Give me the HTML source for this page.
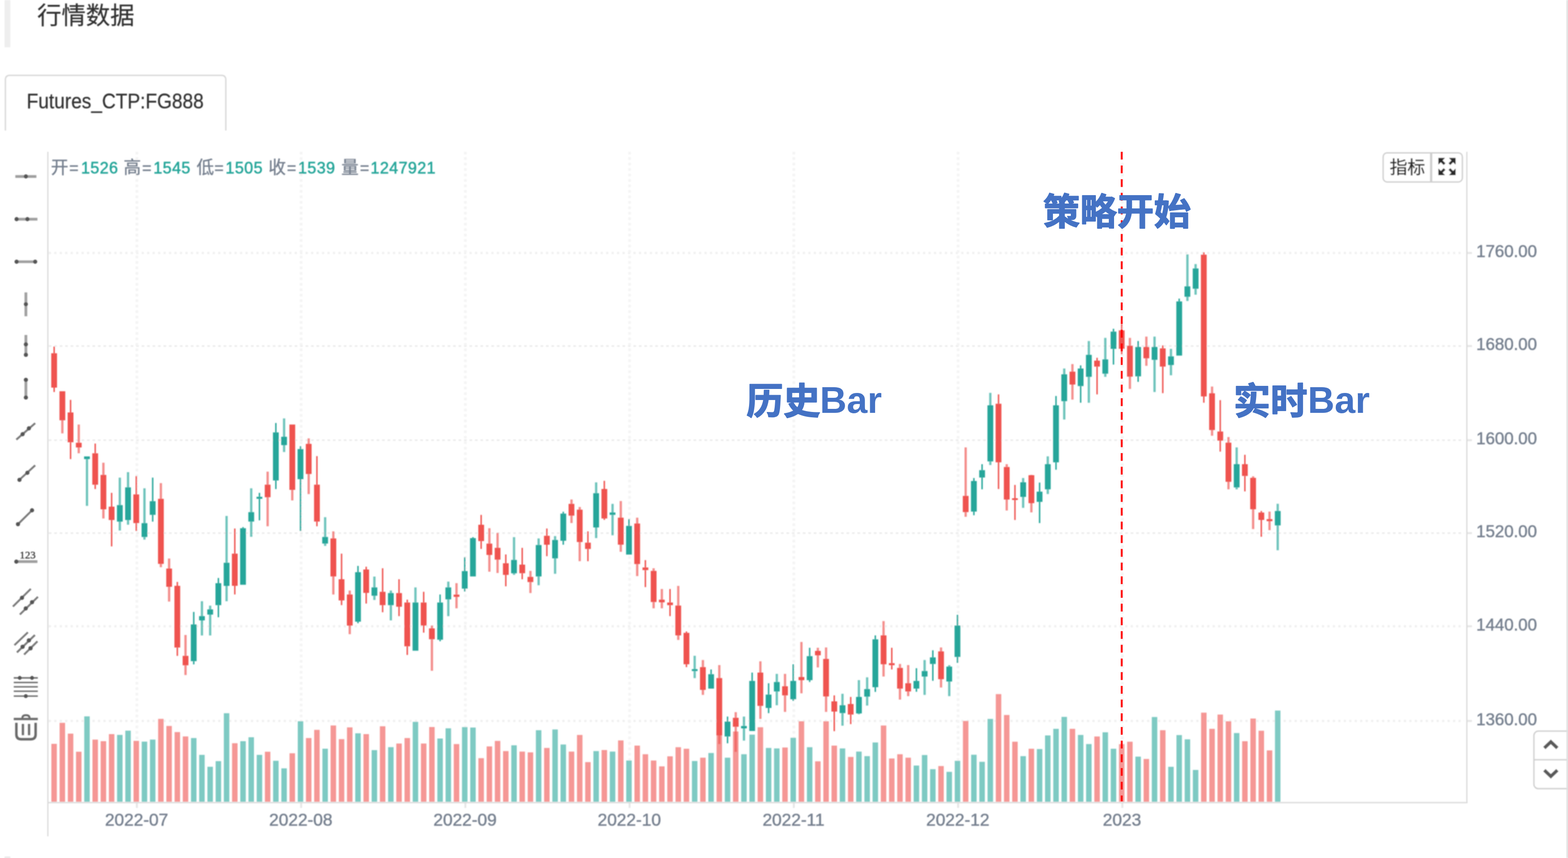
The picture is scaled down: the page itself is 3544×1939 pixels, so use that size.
<!DOCTYPE html>
<html lang="zh-CN"><head><meta charset="utf-8"><title>行情数据</title>
<style>
html,body{margin:0;padding:0;background:#fff;}
body{width:3544px;height:1939px;overflow:hidden;position:relative;}
svg{position:absolute;left:0;top:0;display:block;}
text{font-family:"Liberation Sans","Noto Sans CJK SC",sans-serif;}
.soft{filter:url(#soft);}
.grid{stroke:#ebebeb;stroke-width:3.4;stroke-dasharray:6 6.35;}
.gv{stroke:#f4f4f4;stroke-width:6.2;}
.gf{stroke:#f0f0f0;stroke-width:5;stroke-dasharray:5 7.35;}
.tick{stroke:#e6e6e6;stroke-width:4.4;}
.axis{stroke:#d9d9d9;stroke-width:2.7;}
.r{fill:#EF5350;} .g{fill:#26A69A;}
.vr{fill:#F59795;} .vg{fill:#7ECAC3;}
.lw{opacity:.66;}
.axl{font-size:39px;fill:#76808F;stroke:#76808F;stroke-width:0.7;}
.ayl{font-size:38px;}
.lg{font-size:36px;}
.lk{fill:#76808F;stroke:#76808F;stroke-width:0.8;} .lc{fill:#76808F;font-size:39.5px;stroke:#76808F;stroke-width:0.6;} .lv{fill:#26A69A;letter-spacing:1.1px;stroke:#26A69A;stroke-width:0.9;}
.il{stroke:#a0a0a0;stroke-width:6.2;stroke-linecap:butt;}
.id{fill:#555555;}
.ip{fill:none;stroke:#6a6a6a;stroke-width:3.6;}
.it{font-family:"Liberation Serif","DejaVu Serif",serif;font-size:24px;fill:#333;stroke:#333;stroke-width:0.5;}
.btn{fill:#fff;stroke:#cfcfcf;stroke-width:3;}
.btnl{stroke:#cfcfcf;stroke-width:3;}
.btnt{font-size:40px;fill:#2a2a2a;stroke:#2a2a2a;stroke-width:0.7;}
.ttl{font-size:55px;fill:#303030;stroke:#303030;stroke-width:0.3;}
.tab{font-size:48.6px;fill:#333;stroke:#333;stroke-width:0.4;}
.ann{font-family:"Liberation Sans","Noto Sans CJK SC",sans-serif;font-weight:bold;font-size:83.5px;fill:#4472C4;}
.ac{stroke:#4472C4;stroke-width:2.2;stroke-linejoin:round;}
.al{font-size:84px;}
</style></head>
<body>
<svg width="3544" height="1939" viewBox="0 0 3544 1939">
<defs><filter id="soft" x="0" y="0" width="3544" height="1939" filterUnits="userSpaceOnUse"><feGaussianBlur stdDeviation="1.1"/></filter></defs>
<g class="soft">
<line x1="110.2" x2="3309.4" y1="571.7" y2="571.7" class="grid gf"/>
<line x1="3315.4" x2="3326.9" y1="571.7" y2="571.7" class="tick"/>
<line x1="110.2" x2="3309.4" y1="782" y2="782" class="grid"/>
<line x1="3315.4" x2="3326.9" y1="782" y2="782" class="tick"/>
<line x1="110.2" x2="3309.4" y1="994.8" y2="994.8" class="grid"/>
<line x1="3315.4" x2="3326.9" y1="994.8" y2="994.8" class="tick"/>
<line x1="110.2" x2="3309.4" y1="1204.8" y2="1204.8" class="grid"/>
<line x1="3315.4" x2="3326.9" y1="1204.8" y2="1204.8" class="tick"/>
<line x1="110.2" x2="3309.4" y1="1415.3" y2="1415.3" class="grid gf"/>
<line x1="3315.4" x2="3326.9" y1="1415.3" y2="1415.3" class="tick"/>
<line x1="110.2" x2="3309.4" y1="1629.3" y2="1629.3" class="grid gf"/>
<line x1="3315.4" x2="3326.9" y1="1629.3" y2="1629.3" class="tick"/>
<line x1="309.4" x2="309.4" y1="343" y2="1813.8" class="grid gv"/>
<line x1="309.4" x2="309.4" y1="1813.8" y2="1825.8" class="tick"/>
<line x1="680.6" x2="680.6" y1="343" y2="1813.8" class="grid gv"/>
<line x1="680.6" x2="680.6" y1="1813.8" y2="1825.8" class="tick"/>
<line x1="1051.8" x2="1051.8" y1="343" y2="1813.8" class="grid gv"/>
<line x1="1051.8" x2="1051.8" y1="1813.8" y2="1825.8" class="tick"/>
<line x1="1423" x2="1423" y1="343" y2="1813.8" class="grid gv"/>
<line x1="1423" x2="1423" y1="1813.8" y2="1825.8" class="tick"/>
<line x1="1794.2" x2="1794.2" y1="343" y2="1813.8" class="grid gv"/>
<line x1="1794.2" x2="1794.2" y1="1813.8" y2="1825.8" class="tick"/>
<line x1="2165.5" x2="2165.5" y1="343" y2="1813.8" class="grid gv"/>
<line x1="2165.5" x2="2165.5" y1="1813.8" y2="1825.8" class="tick"/>
<line x1="2536.7" x2="2536.7" y1="343" y2="1813.8" class="grid gv"/>
<line x1="2536.7" x2="2536.7" y1="1813.8" y2="1825.8" class="tick"/>
<g id="vol"><rect class="vr" x="116.1" y="1681" width="12.4" height="130.9"/><rect class="vr" x="134.7" y="1633.5" width="12.4" height="178.4"/><rect class="vr" x="153.3" y="1657.9" width="12.4" height="154"/><rect class="vr" x="171.8" y="1698.8" width="12.4" height="113.1"/><rect class="vg" x="190.4" y="1618.9" width="12.4" height="193"/><rect class="vr" x="209" y="1671.4" width="12.4" height="140.5"/><rect class="vr" x="227.5" y="1675" width="12.4" height="136.9"/><rect class="vr" x="246.1" y="1659" width="12.4" height="152.9"/><rect class="vg" x="264.6" y="1660.8" width="12.4" height="151.1"/><rect class="vg" x="283.2" y="1651.2" width="12.4" height="160.7"/><rect class="vr" x="301.8" y="1674.3" width="12.4" height="137.6"/><rect class="vg" x="320.3" y="1676" width="12.4" height="135.9"/><rect class="vg" x="338.9" y="1671.4" width="12.4" height="140.5"/><rect class="vr" x="357.4" y="1624.6" width="12.4" height="187.3"/><rect class="vr" x="376" y="1640.6" width="12.4" height="171.3"/><rect class="vr" x="394.6" y="1654.4" width="12.4" height="157.5"/><rect class="vr" x="413.1" y="1664.3" width="12.4" height="147.6"/><rect class="vg" x="431.7" y="1667.9" width="12.4" height="144"/><rect class="vg" x="450.2" y="1705.9" width="12.4" height="106"/><rect class="vg" x="468.8" y="1732.8" width="12.4" height="79.1"/><rect class="vg" x="487.4" y="1720.1" width="12.4" height="91.8"/><rect class="vg" x="505.9" y="1611.8" width="12.4" height="200.1"/><rect class="vr" x="524.5" y="1679.6" width="12.4" height="132.3"/><rect class="vg" x="543.1" y="1675" width="12.4" height="136.9"/><rect class="vg" x="561.6" y="1666.1" width="12.4" height="145.8"/><rect class="vg" x="580.2" y="1705.9" width="12.4" height="106"/><rect class="vr" x="598.7" y="1698.8" width="12.4" height="113.1"/><rect class="vg" x="617.3" y="1719.3" width="12.4" height="92.6"/><rect class="vg" x="635.9" y="1736.4" width="12.4" height="75.5"/><rect class="vr" x="654.4" y="1702.3" width="12.4" height="109.6"/><rect class="vg" x="673" y="1629.9" width="12.4" height="182"/><rect class="vr" x="691.5" y="1667.9" width="12.4" height="144"/><rect class="vr" x="710.1" y="1649.4" width="12.4" height="162.5"/><rect class="vg" x="728.7" y="1692" width="12.4" height="119.9"/><rect class="vr" x="747.2" y="1639.5" width="12.4" height="172.4"/><rect class="vr" x="765.8" y="1670.4" width="12.4" height="141.5"/><rect class="vr" x="784.3" y="1643.8" width="12.4" height="168.1"/><rect class="vg" x="802.9" y="1657.2" width="12.4" height="154.7"/><rect class="vr" x="821.5" y="1659" width="12.4" height="152.9"/><rect class="vg" x="840" y="1695.2" width="12.4" height="116.7"/><rect class="vr" x="858.6" y="1641.3" width="12.4" height="170.6"/><rect class="vg" x="877.2" y="1688.5" width="12.4" height="123.4"/><rect class="vr" x="895.7" y="1680.3" width="12.4" height="131.6"/><rect class="vr" x="914.3" y="1667.9" width="12.4" height="144"/><rect class="vg" x="932.8" y="1631.3" width="12.4" height="180.6"/><rect class="vr" x="951.4" y="1680.3" width="12.4" height="131.6"/><rect class="vr" x="970" y="1643" width="12.4" height="168.9"/><rect class="vg" x="988.5" y="1669" width="12.4" height="142.9"/><rect class="vg" x="1007.1" y="1645.9" width="12.4" height="166"/><rect class="vr" x="1025.6" y="1681.5" width="12.4" height="130.4"/><rect class="vg" x="1044.2" y="1643.2" width="12.4" height="168.7"/><rect class="vg" x="1062.8" y="1644.2" width="12.4" height="167.7"/><rect class="vr" x="1081.3" y="1713.4" width="12.4" height="98.5"/><rect class="vr" x="1099.9" y="1686.8" width="12.4" height="125.1"/><rect class="vr" x="1118.4" y="1674.4" width="12.4" height="137.5"/><rect class="vr" x="1137" y="1697.4" width="12.4" height="114.5"/><rect class="vg" x="1155.6" y="1684.3" width="12.4" height="127.6"/><rect class="vr" x="1174.1" y="1698.5" width="12.4" height="113.4"/><rect class="vr" x="1192.7" y="1700.3" width="12.4" height="111.6"/><rect class="vg" x="1211.2" y="1650.2" width="12.4" height="161.7"/><rect class="vr" x="1229.8" y="1690.3" width="12.4" height="121.6"/><rect class="vg" x="1248.4" y="1648.5" width="12.4" height="163.4"/><rect class="vg" x="1266.9" y="1682.5" width="12.4" height="129.4"/><rect class="vr" x="1285.5" y="1698.5" width="12.4" height="113.4"/><rect class="vr" x="1304.1" y="1660.9" width="12.4" height="151"/><rect class="vr" x="1322.6" y="1722.3" width="12.4" height="89.6"/><rect class="vg" x="1341.2" y="1697.4" width="12.4" height="114.5"/><rect class="vr" x="1359.7" y="1695" width="12.4" height="116.9"/><rect class="vg" x="1378.3" y="1698.5" width="12.4" height="113.4"/><rect class="vr" x="1396.9" y="1673.3" width="12.4" height="138.6"/><rect class="vg" x="1415.4" y="1718.7" width="12.4" height="93.2"/><rect class="vr" x="1434" y="1685" width="12.4" height="126.9"/><rect class="vr" x="1452.5" y="1704.5" width="12.4" height="107.4"/><rect class="vr" x="1471.1" y="1718.7" width="12.4" height="93.2"/><rect class="vr" x="1489.7" y="1731.9" width="12.4" height="80"/><rect class="vr" x="1508.2" y="1709.2" width="12.4" height="102.7"/><rect class="vr" x="1526.8" y="1688.6" width="12.4" height="123.3"/><rect class="vr" x="1545.3" y="1692.1" width="12.4" height="119.8"/><rect class="vg" x="1563.9" y="1719.8" width="12.4" height="92.1"/><rect class="vr" x="1582.5" y="1712.3" width="12.4" height="99.6"/><rect class="vg" x="1601" y="1701.7" width="12.4" height="110.2"/><rect class="vr" x="1619.6" y="1654.9" width="12.4" height="157"/><rect class="vg" x="1638.2" y="1712.3" width="12.4" height="99.6"/><rect class="vr" x="1656.7" y="1653.1" width="12.4" height="158.8"/><rect class="vg" x="1675.3" y="1704.5" width="12.4" height="107.4"/><rect class="vg" x="1693.8" y="1660.2" width="12.4" height="151.7"/><rect class="vr" x="1712.4" y="1643.5" width="12.4" height="168.4"/><rect class="vg" x="1731" y="1690.3" width="12.4" height="121.6"/><rect class="vg" x="1749.5" y="1691.4" width="12.4" height="120.5"/><rect class="vr" x="1768.1" y="1689.3" width="12.4" height="122.6"/><rect class="vg" x="1786.6" y="1667.3" width="12.4" height="144.6"/><rect class="vr" x="1805.2" y="1630" width="12.4" height="181.9"/><rect class="vg" x="1823.8" y="1688.6" width="12.4" height="123.3"/><rect class="vr" x="1842.3" y="1720.5" width="12.4" height="91.4"/><rect class="vr" x="1860.9" y="1630" width="12.4" height="181.9"/><rect class="vr" x="1879.4" y="1685" width="12.4" height="126.9"/><rect class="vg" x="1898" y="1691.4" width="12.4" height="120.5"/><rect class="vr" x="1916.6" y="1710.6" width="12.4" height="101.3"/><rect class="vg" x="1935.1" y="1698.5" width="12.4" height="113.4"/><rect class="vg" x="1953.7" y="1708.8" width="12.4" height="103.1"/><rect class="vg" x="1972.2" y="1677.9" width="12.4" height="134"/><rect class="vr" x="1990.8" y="1639.6" width="12.4" height="172.3"/><rect class="vr" x="2009.4" y="1714.1" width="12.4" height="97.8"/><rect class="vr" x="2027.9" y="1704.5" width="12.4" height="107.4"/><rect class="vr" x="2046.5" y="1712.3" width="12.4" height="99.6"/><rect class="vg" x="2065.1" y="1730.1" width="12.4" height="81.8"/><rect class="vg" x="2083.6" y="1706.3" width="12.4" height="105.6"/><rect class="vg" x="2102.2" y="1738.3" width="12.4" height="73.6"/><rect class="vr" x="2120.7" y="1731.2" width="12.4" height="80.7"/><rect class="vg" x="2139.3" y="1744.3" width="12.4" height="67.6"/><rect class="vg" x="2157.9" y="1719.4" width="12.4" height="92.5"/><rect class="vr" x="2176.4" y="1629.3" width="12.4" height="182.6"/><rect class="vg" x="2195" y="1705.6" width="12.4" height="106.3"/><rect class="vg" x="2213.5" y="1721.6" width="12.4" height="90.3"/><rect class="vg" x="2232.1" y="1624.7" width="12.4" height="187.2"/><rect class="vr" x="2250.7" y="1568.6" width="12.4" height="243.3"/><rect class="vr" x="2269.2" y="1615.8" width="12.4" height="196.1"/><rect class="vr" x="2287.8" y="1676.2" width="12.4" height="135.7"/><rect class="vg" x="2306.3" y="1708.8" width="12.4" height="103.1"/><rect class="vr" x="2324.9" y="1692.1" width="12.4" height="119.8"/><rect class="vg" x="2343.5" y="1692.8" width="12.4" height="119.1"/><rect class="vg" x="2362" y="1662" width="12.4" height="149.9"/><rect class="vg" x="2380.6" y="1647.1" width="12.4" height="164.8"/><rect class="vg" x="2399.2" y="1620.1" width="12.4" height="191.8"/><rect class="vr" x="2417.7" y="1647.1" width="12.4" height="164.8"/><rect class="vg" x="2436.3" y="1660.9" width="12.4" height="151"/><rect class="vg" x="2454.8" y="1681.5" width="12.4" height="130.4"/><rect class="vr" x="2473.4" y="1664.4" width="12.4" height="147.5"/><rect class="vg" x="2492" y="1654.9" width="12.4" height="157"/><rect class="vg" x="2510.5" y="1692.1" width="12.4" height="119.8"/><rect class="vr" x="2529.1" y="1681.5" width="12.4" height="130.4"/><rect class="vr" x="2547.6" y="1676.2" width="12.4" height="135.7"/><rect class="vg" x="2566.2" y="1709.9" width="12.4" height="102"/><rect class="vr" x="2584.8" y="1715.2" width="12.4" height="96.7"/><rect class="vg" x="2603.3" y="1620.4" width="12.4" height="191.5"/><rect class="vr" x="2621.9" y="1650.2" width="12.4" height="161.7"/><rect class="vg" x="2640.4" y="1732.9" width="12.4" height="79"/><rect class="vg" x="2659" y="1661.2" width="12.4" height="150.7"/><rect class="vg" x="2677.6" y="1670.8" width="12.4" height="141.1"/><rect class="vg" x="2696.1" y="1740" width="12.4" height="71.9"/><rect class="vr" x="2714.7" y="1610.5" width="12.4" height="201.4"/><rect class="vr" x="2733.3" y="1647.1" width="12.4" height="164.8"/><rect class="vr" x="2751.8" y="1614.8" width="12.4" height="197.1"/><rect class="vr" x="2770.4" y="1630" width="12.4" height="181.9"/><rect class="vg" x="2788.9" y="1656.6" width="12.4" height="155.3"/><rect class="vr" x="2807.5" y="1675.1" width="12.4" height="136.8"/><rect class="vr" x="2826.1" y="1623.8" width="12.4" height="188.1"/><rect class="vr" x="2844.6" y="1651.4" width="12.4" height="160.5"/><rect class="vr" x="2863.2" y="1695.8" width="12.4" height="116.1"/><rect class="vg" x="2881.7" y="1605.8" width="12.4" height="206.1"/></g>
<g id="candles"><rect class="r" x="120.8" y="783.1" width="3.2" height="15.3"/><rect class="r" x="120.8" y="876" width="3.2" height="9.9"/><rect class="r" x="115.8" y="798.3" width="13.1" height="77.7"/><rect class="r lw" x="138.3" y="949.9" width="5.2" height="29.5"/><rect class="r" x="134.4" y="884.2" width="13.1" height="65.6"/><rect class="r" x="157.9" y="903.7" width="3.2" height="28.4"/><rect class="r" x="157.9" y="999.5" width="3.2" height="38"/><rect class="r" x="152.9" y="932.1" width="13.1" height="67.4"/><rect class="r lw" x="175.4" y="959.4" width="5.2" height="41.2"/><rect class="r lw" x="175.4" y="1011.2" width="5.2" height="13.1"/><rect class="r" x="171.5" y="1000.6" width="13.1" height="10.6"/><rect class="g lw" x="194" y="1037.5" width="5.2" height="105.7"/><rect class="g" x="190" y="1031.5" width="13.1" height="6"/><rect class="r" x="213.6" y="1002.4" width="3.2" height="22"/><rect class="r" x="213.6" y="1095.3" width="3.2" height="9.9"/><rect class="r" x="208.6" y="1024.4" width="13.1" height="71"/><rect class="r lw" x="231.1" y="1045.7" width="5.2" height="27.7"/><rect class="r lw" x="231.1" y="1151.1" width="5.2" height="20.6"/><rect class="r" x="227.2" y="1073.3" width="13.1" height="77.7"/><rect class="r" x="250.7" y="1113.8" width="3.2" height="31.2"/><rect class="r" x="250.7" y="1175.2" width="3.2" height="59.6"/><rect class="r" x="245.7" y="1145" width="13.1" height="30.2"/><rect class="g lw" x="268.2" y="1079.4" width="5.2" height="62.1"/><rect class="g lw" x="268.2" y="1178.7" width="5.2" height="20.2"/><rect class="g" x="264.3" y="1141.5" width="13.1" height="37.3"/><rect class="g lw" x="286.8" y="1067" width="5.2" height="34.4"/><rect class="g lw" x="286.8" y="1175.2" width="5.2" height="10.6"/><rect class="g" x="282.8" y="1101.4" width="13.1" height="73.8"/><rect class="r" x="306.4" y="1075.8" width="3.2" height="41.5"/><rect class="r" x="306.4" y="1182.3" width="3.2" height="17.7"/><rect class="r" x="301.4" y="1117.3" width="13.1" height="64.9"/><rect class="g lw" x="323.9" y="1103.5" width="5.2" height="78.8"/><rect class="g lw" x="323.9" y="1213.5" width="5.2" height="6"/><rect class="g" x="320" y="1182.3" width="13.1" height="31.2"/><rect class="g" x="343.5" y="1079.4" width="3.2" height="53.2"/><rect class="g" x="343.5" y="1163.5" width="3.2" height="15.3"/><rect class="g" x="338.5" y="1132.6" width="13.1" height="30.9"/><rect class="r lw" x="361" y="1091.8" width="5.2" height="35.5"/><rect class="r lw" x="361" y="1274.3" width="5.2" height="7.5"/><rect class="r" x="357.1" y="1127.3" width="13.1" height="147"/><rect class="r lw" x="379.6" y="1262.2" width="5.2" height="22.7"/><rect class="r lw" x="379.6" y="1326.1" width="5.2" height="33.4"/><rect class="r" x="375.7" y="1284.9" width="13.1" height="41.2"/><rect class="r" x="399.2" y="1315.1" width="3.2" height="8.9"/><rect class="r" x="399.2" y="1463.4" width="3.2" height="18.8"/><rect class="r" x="394.2" y="1323.9" width="13.1" height="139.5"/><rect class="r lw" x="416.7" y="1435" width="5.2" height="47.2"/><rect class="r lw" x="416.7" y="1503.5" width="5.2" height="22"/><rect class="r" x="412.8" y="1482.2" width="13.1" height="21.3"/><rect class="g" x="436.3" y="1382.9" width="3.2" height="28.4"/><rect class="g" x="436.3" y="1494.3" width="3.2" height="7.1"/><rect class="g" x="431.3" y="1411.2" width="13.1" height="83"/><rect class="g lw" x="453.8" y="1358.7" width="5.2" height="33.7"/><rect class="g lw" x="453.8" y="1402" width="5.2" height="34.1"/><rect class="g" x="449.9" y="1392.4" width="13.1" height="9.6"/><rect class="g lw" x="472.4" y="1368.7" width="5.2" height="8.5"/><rect class="g lw" x="472.4" y="1388.9" width="5.2" height="47.2"/><rect class="g" x="468.5" y="1377.2" width="13.1" height="11.7"/><rect class="g" x="492" y="1306.2" width="3.2" height="11.7"/><rect class="g" x="492" y="1367.6" width="3.2" height="27.3"/><rect class="g" x="487" y="1317.9" width="13.1" height="49.7"/><rect class="g lw" x="509.5" y="1166" width="5.2" height="105.7"/><rect class="g lw" x="509.5" y="1323.9" width="5.2" height="34.8"/><rect class="g" x="505.6" y="1271.8" width="13.1" height="52.2"/><rect class="r" x="529.1" y="1194.4" width="3.2" height="56.8"/><rect class="r" x="529.1" y="1323.9" width="3.2" height="19.5"/><rect class="r" x="524.1" y="1251.2" width="13.1" height="72.7"/><rect class="g" x="547.7" y="1191.2" width="3.2" height="2.5"/><rect class="g" x="542.7" y="1193.7" width="13.1" height="127.8"/><rect class="g lw" x="565.2" y="1103.5" width="5.2" height="53.9"/><rect class="g lw" x="565.2" y="1178.7" width="5.2" height="34.4"/><rect class="g" x="561.3" y="1157.4" width="13.1" height="21.3"/><rect class="g" x="584.8" y="1113.8" width="3.2" height="8.9"/><rect class="g" x="584.8" y="1127.3" width="3.2" height="48.6"/><rect class="g" x="579.8" y="1122.7" width="13.1" height="4.6"/><rect class="r lw" x="602.3" y="1065.9" width="5.2" height="29.5"/><rect class="r lw" x="602.3" y="1123.7" width="5.2" height="65.6"/><rect class="r" x="598.4" y="1095.3" width="13.1" height="28.4"/><rect class="g" x="621.9" y="955.9" width="3.2" height="21.3"/><rect class="g" x="621.9" y="1085.8" width="3.2" height="19.5"/><rect class="g" x="616.9" y="977.2" width="13.1" height="108.6"/><rect class="g lw" x="639.5" y="945.6" width="5.2" height="41.5"/><rect class="g lw" x="639.5" y="1005.9" width="5.2" height="15.6"/><rect class="g" x="635.5" y="987.1" width="13.1" height="18.8"/><rect class="r lw" x="658" y="1107.1" width="5.2" height="23.8"/><rect class="r" x="654.1" y="959.4" width="13.1" height="147.6"/><rect class="g" x="677.6" y="1008.4" width="3.2" height="6.4"/><rect class="g" x="677.6" y="1082.9" width="3.2" height="117.1"/><rect class="g" x="672.6" y="1014.8" width="13.1" height="68.1"/><rect class="r lw" x="695.1" y="990.7" width="5.2" height="12.4"/><rect class="r lw" x="695.1" y="1071.2" width="5.2" height="45.4"/><rect class="r" x="691.2" y="1003.1" width="13.1" height="68.1"/><rect class="r" x="714.7" y="1030.8" width="3.2" height="64.6"/><rect class="r" x="714.7" y="1178.7" width="3.2" height="10.6"/><rect class="r" x="709.8" y="1095.3" width="13.1" height="83.4"/><rect class="g lw" x="732.3" y="1168.8" width="5.2" height="44.7"/><rect class="g lw" x="732.3" y="1228.4" width="5.2" height="5.3"/><rect class="g" x="728.3" y="1213.5" width="13.1" height="14.9"/><rect class="r lw" x="750.8" y="1200.8" width="5.2" height="16"/><rect class="r lw" x="750.8" y="1302.7" width="5.2" height="40.8"/><rect class="r" x="746.9" y="1216.8" width="13.1" height="85.9"/><rect class="r" x="770.4" y="1251.2" width="3.2" height="57.8"/><rect class="r" x="770.4" y="1356.9" width="3.2" height="10.6"/><rect class="r" x="765.4" y="1309" width="13.1" height="47.9"/><rect class="r lw" x="787.9" y="1334.6" width="5.2" height="8.9"/><rect class="r lw" x="787.9" y="1413.7" width="5.2" height="19.5"/><rect class="r" x="784" y="1343.5" width="13.1" height="70.3"/><rect class="g" x="807.5" y="1278.9" width="3.2" height="14.2"/><rect class="g" x="807.5" y="1404.9" width="3.2" height="3.5"/><rect class="g" x="802.6" y="1293.1" width="13.1" height="111.8"/><rect class="r" x="826.1" y="1280.7" width="3.2" height="6.4"/><rect class="r" x="826.1" y="1339.9" width="3.2" height="24.1"/><rect class="r" x="821.1" y="1287" width="13.1" height="52.9"/><rect class="g lw" x="843.6" y="1303" width="5.2" height="24.5"/><rect class="g lw" x="843.6" y="1346.3" width="5.2" height="9.6"/><rect class="g" x="839.7" y="1327.5" width="13.1" height="18.8"/><rect class="r" x="863.2" y="1284.2" width="3.2" height="53.2"/><rect class="r" x="863.2" y="1367.6" width="3.2" height="16"/><rect class="r" x="858.2" y="1337.4" width="13.1" height="30.2"/><rect class="g lw" x="880.8" y="1334.6" width="5.2" height="5.7"/><rect class="g lw" x="880.8" y="1367.6" width="5.2" height="34.4"/><rect class="g" x="876.8" y="1340.3" width="13.1" height="27.3"/><rect class="r" x="900.3" y="1309" width="3.2" height="31.2"/><rect class="r" x="900.3" y="1371.1" width="3.2" height="21.3"/><rect class="r" x="895.4" y="1340.3" width="13.1" height="30.9"/><rect class="r" x="918.9" y="1355.2" width="3.2" height="6.4"/><rect class="r" x="918.9" y="1460.6" width="3.2" height="19.5"/><rect class="r" x="913.9" y="1361.6" width="13.1" height="99"/><rect class="g lw" x="936.4" y="1327.5" width="5.2" height="34.1"/><rect class="g" x="932.5" y="1361.6" width="13.1" height="108.9"/><rect class="r" x="956" y="1337.4" width="3.2" height="24.1"/><rect class="r" x="956" y="1413.7" width="3.2" height="16"/><rect class="r" x="951" y="1361.6" width="13.1" height="52.2"/><rect class="r lw" x="973.6" y="1413.7" width="5.2" height="6.4"/><rect class="r lw" x="973.6" y="1444.6" width="5.2" height="71.3"/><rect class="r" x="969.6" y="1420.1" width="13.1" height="24.5"/><rect class="g" x="993.1" y="1343.5" width="3.2" height="18.1"/><rect class="g" x="993.1" y="1445.7" width="3.2" height="3.5"/><rect class="g" x="988.2" y="1361.6" width="13.1" height="84.1"/><rect class="g lw" x="1010.7" y="1314.4" width="5.2" height="13.1"/><rect class="g lw" x="1010.7" y="1354.5" width="5.2" height="38"/><rect class="g" x="1006.7" y="1327.5" width="13.1" height="27"/><rect class="r lw" x="1029.2" y="1317.9" width="5.2" height="25.9"/><rect class="r lw" x="1029.2" y="1348.8" width="5.2" height="25.9"/><rect class="r" x="1025.3" y="1343.8" width="13.1" height="5"/><rect class="g" x="1048.8" y="1259.4" width="3.2" height="31.2"/><rect class="g" x="1048.8" y="1330.3" width="3.2" height="6.4"/><rect class="g" x="1043.8" y="1290.6" width="13.1" height="39.7"/><rect class="g" x="1067.4" y="1213.9" width="3.2" height="2.1"/><rect class="g" x="1062.4" y="1216.1" width="13.1" height="86.6"/><rect class="r" x="1085.9" y="1163.6" width="3.2" height="22.4"/><rect class="r" x="1085.9" y="1222.8" width="3.2" height="17.7"/><rect class="r" x="1081" y="1185.9" width="13.1" height="36.9"/><rect class="r lw" x="1103.5" y="1193.7" width="5.2" height="34.8"/><rect class="r lw" x="1103.5" y="1254" width="5.2" height="38"/><rect class="r" x="1099.5" y="1228.5" width="13.1" height="25.6"/><rect class="r lw" x="1122" y="1204.4" width="5.2" height="33.7"/><rect class="r lw" x="1122" y="1264.7" width="5.2" height="30.2"/><rect class="r" x="1118.1" y="1238.1" width="13.1" height="26.6"/><rect class="r" x="1141.6" y="1253" width="3.2" height="19.9"/><rect class="r" x="1141.6" y="1299.1" width="3.2" height="25.9"/><rect class="r" x="1136.7" y="1272.9" width="13.1" height="26.3"/><rect class="g lw" x="1159.2" y="1213.9" width="5.2" height="51.5"/><rect class="g lw" x="1159.2" y="1295.6" width="5.2" height="3.5"/><rect class="g" x="1155.2" y="1265.4" width="13.1" height="30.2"/><rect class="r" x="1178.7" y="1238.1" width="3.2" height="38"/><rect class="r" x="1178.7" y="1295.6" width="3.2" height="13.5"/><rect class="r" x="1173.8" y="1276" width="13.1" height="19.5"/><rect class="r lw" x="1196.3" y="1290.2" width="5.2" height="13.5"/><rect class="r lw" x="1196.3" y="1315.4" width="5.2" height="24.8"/><rect class="r" x="1192.3" y="1303.7" width="13.1" height="11.7"/><rect class="g lw" x="1214.8" y="1216.8" width="5.2" height="14.9"/><rect class="g lw" x="1214.8" y="1302.7" width="5.2" height="19.9"/><rect class="g" x="1210.9" y="1231.7" width="13.1" height="71"/><rect class="r" x="1234.4" y="1194.4" width="3.2" height="16.3"/><rect class="r" x="1234.4" y="1231" width="3.2" height="25.9"/><rect class="r" x="1229.5" y="1210.8" width="13.1" height="20.2"/><rect class="g lw" x="1252" y="1211.5" width="5.2" height="8.9"/><rect class="g lw" x="1252" y="1261.9" width="5.2" height="34.8"/><rect class="g" x="1248" y="1220.3" width="13.1" height="41.5"/><rect class="g" x="1271.5" y="1156.5" width="3.2" height="4.3"/><rect class="g" x="1271.5" y="1222.1" width="3.2" height="8.9"/><rect class="g" x="1266.6" y="1160.7" width="13.1" height="61.4"/><rect class="r lw" x="1289.1" y="1128.8" width="5.2" height="9.9"/><rect class="r lw" x="1289.1" y="1165.3" width="5.2" height="16.7"/><rect class="r" x="1285.1" y="1138.7" width="13.1" height="26.6"/><rect class="r lw" x="1307.7" y="1145.8" width="5.2" height="6"/><rect class="r lw" x="1307.7" y="1224.9" width="5.2" height="43.3"/><rect class="r" x="1303.7" y="1151.8" width="13.1" height="73.1"/><rect class="r" x="1327.2" y="1200.8" width="3.2" height="25.6"/><rect class="r" x="1327.2" y="1240.6" width="3.2" height="27.7"/><rect class="r" x="1322.3" y="1226.4" width="13.1" height="14.2"/><rect class="g lw" x="1344.8" y="1090.1" width="5.2" height="24.5"/><rect class="g lw" x="1344.8" y="1191.9" width="5.2" height="24.1"/><rect class="g" x="1340.8" y="1114.6" width="13.1" height="77.4"/><rect class="r" x="1364.3" y="1086.6" width="3.2" height="18.5"/><rect class="r" x="1364.3" y="1171.7" width="3.2" height="3.2"/><rect class="r" x="1359.4" y="1105" width="13.1" height="66.7"/><rect class="g lw" x="1381.9" y="1138.7" width="5.2" height="19.5"/><rect class="g lw" x="1381.9" y="1163.6" width="5.2" height="46.1"/><rect class="g" x="1377.9" y="1158.2" width="13.1" height="5.3"/><rect class="r lw" x="1400.5" y="1132.3" width="5.2" height="37.6"/><rect class="r lw" x="1400.5" y="1231" width="5.2" height="16"/><rect class="r" x="1396.5" y="1169.9" width="13.1" height="61"/><rect class="g" x="1420" y="1173.1" width="3.2" height="15.3"/><rect class="g" x="1415.1" y="1188.4" width="13.1" height="64.9"/><rect class="r lw" x="1437.6" y="1169.9" width="5.2" height="13.1"/><rect class="r lw" x="1437.6" y="1274.6" width="5.2" height="27.3"/><rect class="r" x="1433.6" y="1183.1" width="13.1" height="91.6"/><rect class="r" x="1457.1" y="1265.8" width="3.2" height="16.7"/><rect class="r" x="1457.1" y="1288.5" width="3.2" height="38.3"/><rect class="r" x="1452.2" y="1282.4" width="13.1" height="6"/><rect class="r lw" x="1474.7" y="1284.2" width="5.2" height="6"/><rect class="r lw" x="1474.7" y="1360.5" width="5.2" height="14.2"/><rect class="r" x="1470.8" y="1290.2" width="13.1" height="70.3"/><rect class="r lw" x="1493.3" y="1331.1" width="5.2" height="24.1"/><rect class="r lw" x="1493.3" y="1361.2" width="5.2" height="13.5"/><rect class="r" x="1489.3" y="1355.2" width="13.1" height="6"/><rect class="r" x="1512.8" y="1331.1" width="3.2" height="30.5"/><rect class="r" x="1512.8" y="1367.6" width="3.2" height="24.8"/><rect class="r" x="1507.9" y="1361.6" width="13.1" height="6"/><rect class="r lw" x="1530.4" y="1324.1" width="5.2" height="44.4"/><rect class="r lw" x="1530.4" y="1435.9" width="5.2" height="10.3"/><rect class="r" x="1526.4" y="1368.5" width="13.1" height="67.4"/><rect class="r" x="1549.9" y="1427" width="3.2" height="3.2"/><rect class="r" x="1549.9" y="1501.2" width="3.2" height="6.4"/><rect class="r" x="1545" y="1430.2" width="13.1" height="71"/><rect class="g lw" x="1567.5" y="1482" width="5.2" height="30.2"/><rect class="g lw" x="1567.5" y="1516.5" width="5.2" height="16"/><rect class="g" x="1563.6" y="1512.2" width="13.1" height="4.3"/><rect class="r lw" x="1586.1" y="1491.6" width="5.2" height="16"/><rect class="r lw" x="1586.1" y="1559" width="5.2" height="11.4"/><rect class="r" x="1582.1" y="1507.6" width="13.1" height="51.5"/><rect class="g" x="1605.6" y="1512.9" width="3.2" height="10.6"/><rect class="g" x="1600.7" y="1523.6" width="13.1" height="32.6"/><rect class="r lw" x="1623.2" y="1503" width="5.2" height="29.5"/><rect class="r lw" x="1623.2" y="1662" width="5.2" height="19.5"/><rect class="r" x="1619.2" y="1532.4" width="13.1" height="129.5"/><rect class="g" x="1642.8" y="1619.4" width="3.2" height="11.4"/><rect class="g" x="1642.8" y="1664.4" width="3.2" height="15.3"/><rect class="g" x="1637.8" y="1630.7" width="13.1" height="33.7"/><rect class="r lw" x="1660.3" y="1609.4" width="5.2" height="12.8"/><rect class="r lw" x="1660.3" y="1642.4" width="5.2" height="56.8"/><rect class="r" x="1656.4" y="1622.2" width="13.1" height="20.2"/><rect class="g lw" x="1678.9" y="1619.4" width="5.2" height="21.3"/><rect class="g lw" x="1678.9" y="1646" width="5.2" height="27.7"/><rect class="g" x="1674.9" y="1640.7" width="13.1" height="5.3"/><rect class="g" x="1698.4" y="1520" width="3.2" height="18.8"/><rect class="g" x="1693.5" y="1538.8" width="13.1" height="113.2"/><rect class="r lw" x="1716" y="1494.5" width="5.2" height="25.6"/><rect class="r lw" x="1716" y="1595.2" width="5.2" height="29.5"/><rect class="r" x="1712" y="1520" width="13.1" height="75.2"/><rect class="g" x="1735.6" y="1544.1" width="3.2" height="25.6"/><rect class="g" x="1735.6" y="1599.9" width="3.2" height="11.7"/><rect class="g" x="1730.6" y="1569.7" width="13.1" height="30.2"/><rect class="g lw" x="1753.1" y="1522.9" width="5.2" height="18.5"/><rect class="g lw" x="1753.1" y="1562.6" width="5.2" height="31.2"/><rect class="g" x="1749.2" y="1541.3" width="13.1" height="21.3"/><rect class="r lw" x="1771.7" y="1522.9" width="5.2" height="28"/><rect class="r lw" x="1771.7" y="1571.5" width="5.2" height="37.3"/><rect class="r" x="1767.7" y="1550.9" width="13.1" height="20.6"/><rect class="g" x="1791.2" y="1501.2" width="3.2" height="37.6"/><rect class="g" x="1791.2" y="1580.3" width="3.2" height="3.5"/><rect class="g" x="1786.3" y="1538.8" width="13.1" height="41.5"/><rect class="r lw" x="1808.8" y="1450.8" width="5.2" height="79.1"/><rect class="r lw" x="1808.8" y="1537" width="5.2" height="29.8"/><rect class="r" x="1804.9" y="1530" width="13.1" height="7.1"/><rect class="g" x="1828.4" y="1463.9" width="3.2" height="18.8"/><rect class="g" x="1828.4" y="1537" width="3.2" height="4.3"/><rect class="g" x="1823.4" y="1482.8" width="13.1" height="54.3"/><rect class="r lw" x="1845.9" y="1463.9" width="5.2" height="7.1"/><rect class="r lw" x="1845.9" y="1481" width="5.2" height="27.3"/><rect class="r" x="1842" y="1471" width="13.1" height="9.9"/><rect class="r lw" x="1864.5" y="1463.2" width="5.2" height="25.9"/><rect class="r lw" x="1864.5" y="1574" width="5.2" height="34.8"/><rect class="r" x="1860.5" y="1489.1" width="13.1" height="84.8"/><rect class="r" x="1884" y="1571.5" width="3.2" height="13.5"/><rect class="r" x="1884" y="1608" width="3.2" height="44.4"/><rect class="r" x="1879.1" y="1585" width="13.1" height="23.1"/><rect class="g lw" x="1901.6" y="1567.9" width="5.2" height="25.9"/><rect class="g lw" x="1901.6" y="1611.6" width="5.2" height="28.4"/><rect class="g" x="1897.7" y="1593.8" width="13.1" height="17.7"/><rect class="r" x="1921.2" y="1575" width="3.2" height="16"/><rect class="r" x="1921.2" y="1614.8" width="3.2" height="21.6"/><rect class="r" x="1916.2" y="1591" width="13.1" height="23.8"/><rect class="g lw" x="1938.7" y="1537" width="5.2" height="38"/><rect class="g lw" x="1938.7" y="1612.3" width="5.2" height="1.8"/><rect class="g" x="1934.8" y="1575" width="13.1" height="37.3"/><rect class="g lw" x="1957.3" y="1530.7" width="5.2" height="26.6"/><rect class="g lw" x="1957.3" y="1574.3" width="5.2" height="20.2"/><rect class="g" x="1953.3" y="1557.3" width="13.1" height="17"/><rect class="g" x="1976.8" y="1435.9" width="3.2" height="8.9"/><rect class="g" x="1976.8" y="1553" width="3.2" height="10.6"/><rect class="g" x="1971.9" y="1444.8" width="13.1" height="108.2"/><rect class="r lw" x="1994.4" y="1403.6" width="5.2" height="32.3"/><rect class="r lw" x="1994.4" y="1501.2" width="5.2" height="27.7"/><rect class="r" x="1990.5" y="1435.9" width="13.1" height="65.3"/><rect class="r" x="2014" y="1463.9" width="3.2" height="34.8"/><rect class="r" x="2014" y="1503.3" width="3.2" height="9.6"/><rect class="r" x="2009" y="1498.7" width="13.1" height="4.6"/><rect class="r lw" x="2031.5" y="1500.5" width="5.2" height="8.9"/><rect class="r lw" x="2031.5" y="1556.2" width="5.2" height="24.8"/><rect class="r" x="2027.6" y="1509.4" width="13.1" height="46.8"/><rect class="r lw" x="2050.1" y="1503" width="5.2" height="41.2"/><rect class="r lw" x="2050.1" y="1562.6" width="5.2" height="10.6"/><rect class="r" x="2046.1" y="1544.1" width="13.1" height="18.5"/><rect class="g" x="2069.7" y="1510.1" width="3.2" height="28.7"/><rect class="g" x="2069.7" y="1556.2" width="3.2" height="7.1"/><rect class="g" x="2064.7" y="1538.8" width="13.1" height="17.4"/><rect class="g lw" x="2087.2" y="1491.6" width="5.2" height="24.8"/><rect class="g lw" x="2087.2" y="1528.9" width="5.2" height="41.5"/><rect class="g" x="2083.3" y="1516.5" width="13.1" height="12.4"/><rect class="g" x="2106.8" y="1469.6" width="3.2" height="16"/><rect class="g" x="2106.8" y="1500.5" width="3.2" height="38"/><rect class="g" x="2101.8" y="1485.6" width="13.1" height="14.9"/><rect class="r lw" x="2124.3" y="1463.2" width="5.2" height="8.9"/><rect class="r lw" x="2124.3" y="1534.9" width="5.2" height="18.8"/><rect class="r" x="2120.4" y="1472.1" width="13.1" height="62.8"/><rect class="g lw" x="2142.9" y="1503.3" width="5.2" height="3.2"/><rect class="g lw" x="2142.9" y="1540.2" width="5.2" height="33"/><rect class="g" x="2138.9" y="1506.5" width="13.1" height="33.7"/><rect class="g" x="2162.5" y="1389.4" width="3.2" height="24.1"/><rect class="g" x="2162.5" y="1484.5" width="3.2" height="13.5"/><rect class="g" x="2157.5" y="1413.6" width="13.1" height="71"/><rect class="r lw" x="2180" y="1011.1" width="5.2" height="109.7"/><rect class="r lw" x="2180" y="1157.3" width="5.2" height="10.6"/><rect class="r" x="2176.1" y="1120.7" width="13.1" height="36.6"/><rect class="g" x="2199.6" y="1080.3" width="3.2" height="6.7"/><rect class="g" x="2199.6" y="1156.2" width="3.2" height="8.2"/><rect class="g" x="2194.6" y="1087" width="13.1" height="69.2"/><rect class="g" x="2218.1" y="1049" width="3.2" height="13.5"/><rect class="g" x="2218.1" y="1079.2" width="3.2" height="26.6"/><rect class="g" x="2213.2" y="1062.5" width="13.1" height="16.7"/><rect class="g lw" x="2235.7" y="887.8" width="5.2" height="28.2"/><rect class="g lw" x="2235.7" y="1042.7" width="5.2" height="8.2"/><rect class="g" x="2231.8" y="916" width="13.1" height="126.7"/><rect class="r" x="2255.3" y="891.3" width="3.2" height="21.1"/><rect class="r" x="2255.3" y="1044.8" width="3.2" height="60.3"/><rect class="r" x="2250.3" y="912.4" width="13.1" height="132.4"/><rect class="r lw" x="2272.8" y="1049" width="5.2" height="6.4"/><rect class="r lw" x="2272.8" y="1128.9" width="5.2" height="24.8"/><rect class="r" x="2268.9" y="1055.4" width="13.1" height="73.5"/><rect class="r" x="2292.4" y="1095.9" width="3.2" height="30.2"/><rect class="r" x="2292.4" y="1130" width="3.2" height="45.1"/><rect class="r" x="2287.4" y="1126" width="13.1" height="3.9"/><rect class="g lw" x="2309.9" y="1080.3" width="5.2" height="9.6"/><rect class="g lw" x="2309.9" y="1122.9" width="5.2" height="24.8"/><rect class="g" x="2306" y="1089.9" width="13.1" height="33"/><rect class="r lw" x="2328.5" y="1073.2" width="5.2" height="0.7"/><rect class="r lw" x="2328.5" y="1137" width="5.2" height="20.9"/><rect class="r" x="2324.6" y="1073.9" width="13.1" height="63.2"/><rect class="g" x="2348.1" y="1090.6" width="3.2" height="20.6"/><rect class="g" x="2348.1" y="1134.2" width="3.2" height="47.9"/><rect class="g" x="2343.1" y="1111.1" width="13.1" height="23.1"/><rect class="g lw" x="2365.6" y="1031.3" width="5.2" height="17.7"/><rect class="g lw" x="2365.6" y="1105.8" width="5.2" height="10.6"/><rect class="g" x="2361.7" y="1049" width="13.1" height="56.8"/><rect class="g" x="2385.2" y="894.9" width="3.2" height="21.1"/><rect class="g" x="2385.2" y="1044.8" width="3.2" height="16.7"/><rect class="g" x="2380.2" y="916" width="13.1" height="128.8"/><rect class="g lw" x="2402.8" y="832.8" width="5.2" height="13.1"/><rect class="g lw" x="2402.8" y="906.6" width="5.2" height="41.5"/><rect class="g" x="2398.8" y="845.9" width="13.1" height="60.7"/><rect class="r lw" x="2421.3" y="822.8" width="5.2" height="17"/><rect class="r lw" x="2421.3" y="869" width="5.2" height="34.1"/><rect class="r" x="2417.4" y="839.9" width="13.1" height="29.1"/><rect class="g" x="2440.9" y="825.7" width="3.2" height="7.1"/><rect class="g" x="2440.9" y="872.5" width="3.2" height="37.6"/><rect class="g" x="2435.9" y="832.8" width="13.1" height="39.7"/><rect class="g lw" x="2458.4" y="770.7" width="5.2" height="31.2"/><rect class="g lw" x="2458.4" y="851.6" width="5.2" height="58.6"/><rect class="g" x="2454.5" y="801.9" width="13.1" height="49.7"/><rect class="r" x="2478" y="808.6" width="3.2" height="6.4"/><rect class="r" x="2478" y="828.5" width="3.2" height="62.8"/><rect class="r" x="2473" y="815" width="13.1" height="13.5"/><rect class="g lw" x="2495.6" y="763.6" width="5.2" height="48.6"/><rect class="g lw" x="2495.6" y="844.5" width="5.2" height="7.1"/><rect class="g" x="2491.6" y="812.2" width="13.1" height="32.3"/><rect class="g" x="2515.1" y="743" width="3.2" height="6.4"/><rect class="g" x="2515.1" y="788.4" width="3.2" height="35.5"/><rect class="g" x="2510.2" y="749.4" width="13.1" height="39"/><rect class="r" x="2533.7" y="731.6" width="3.2" height="14.9"/><rect class="r" x="2533.7" y="788.4" width="3.2" height="12.4"/><rect class="r" x="2528.7" y="746.5" width="13.1" height="41.9"/><rect class="r lw" x="2551.2" y="763.6" width="5.2" height="17.7"/><rect class="r lw" x="2551.2" y="851.2" width="5.2" height="27.7"/><rect class="r" x="2547.3" y="781.3" width="13.1" height="69.9"/><rect class="g" x="2570.8" y="770.7" width="3.2" height="13.5"/><rect class="g" x="2570.8" y="850.5" width="3.2" height="12.4"/><rect class="g" x="2565.9" y="784.1" width="13.1" height="66.4"/><rect class="r lw" x="2588.4" y="760.7" width="5.2" height="23.4"/><rect class="r lw" x="2588.4" y="809.7" width="5.2" height="17"/><rect class="r" x="2584.4" y="784.1" width="13.1" height="25.6"/><rect class="g lw" x="2606.9" y="760.7" width="5.2" height="23.4"/><rect class="g lw" x="2606.9" y="813.2" width="5.2" height="72.7"/><rect class="g" x="2603" y="784.1" width="13.1" height="29.1"/><rect class="r" x="2626.5" y="780.6" width="3.2" height="6.7"/><rect class="r" x="2626.5" y="828.5" width="3.2" height="60"/><rect class="r" x="2621.5" y="787.3" width="13.1" height="41.2"/><rect class="g lw" x="2644" y="788.4" width="5.2" height="17"/><rect class="g lw" x="2644" y="825" width="5.2" height="23.1"/><rect class="g" x="2640.1" y="805.4" width="13.1" height="19.5"/><rect class="g" x="2663.6" y="674.8" width="3.2" height="6.4"/><rect class="g" x="2658.7" y="681.2" width="13.1" height="122.4"/><rect class="g lw" x="2681.2" y="574.8" width="5.2" height="72.4"/><rect class="g lw" x="2681.2" y="670.6" width="5.2" height="9.6"/><rect class="g" x="2677.2" y="647.2" width="13.1" height="23.4"/><rect class="g lw" x="2699.7" y="596.8" width="5.2" height="9.9"/><rect class="g lw" x="2699.7" y="652.5" width="5.2" height="13.5"/><rect class="g" x="2695.8" y="606.7" width="13.1" height="45.8"/><rect class="r" x="2719.3" y="570.2" width="3.2" height="5.3"/><rect class="r" x="2719.3" y="895.9" width="3.2" height="14.2"/><rect class="r" x="2714.3" y="575.5" width="13.1" height="320.4"/><rect class="r lw" x="2736.9" y="873.6" width="5.2" height="15.3"/><rect class="r lw" x="2736.9" y="971.9" width="5.2" height="12.8"/><rect class="r" x="2732.9" y="888.8" width="13.1" height="83"/><rect class="r" x="2756.4" y="904.3" width="3.2" height="71"/><rect class="r" x="2756.4" y="995.8" width="3.2" height="24.8"/><rect class="r" x="2751.5" y="975.2" width="13.1" height="20.6"/><rect class="r lw" x="2774" y="987.7" width="5.2" height="12.8"/><rect class="r lw" x="2774" y="1088.8" width="5.2" height="17"/><rect class="r" x="2770" y="1000.4" width="13.1" height="88.4"/><rect class="g lw" x="2792.5" y="1011.1" width="5.2" height="38"/><rect class="g lw" x="2792.5" y="1101.6" width="5.2" height="4.3"/><rect class="g" x="2788.6" y="1049" width="13.1" height="52.5"/><rect class="r" x="2812.1" y="1027.8" width="3.2" height="21.3"/><rect class="r" x="2812.1" y="1075.7" width="3.2" height="34.8"/><rect class="r" x="2807.1" y="1049" width="13.1" height="26.6"/><rect class="r lw" x="2829.7" y="1076.4" width="5.2" height="3.5"/><rect class="r lw" x="2829.7" y="1150.9" width="5.2" height="44.7"/><rect class="r" x="2825.7" y="1079.9" width="13.1" height="71"/><rect class="r" x="2849.2" y="1154.8" width="3.2" height="3.5"/><rect class="r" x="2849.2" y="1175" width="3.2" height="38"/><rect class="r" x="2844.3" y="1158.3" width="13.1" height="16.7"/><rect class="r lw" x="2866.8" y="1156.2" width="5.2" height="17"/><rect class="r lw" x="2866.8" y="1177.9" width="5.2" height="20.2"/><rect class="r" x="2862.8" y="1173.2" width="13.1" height="4.6"/><rect class="g lw" x="2885.3" y="1138.5" width="5.2" height="16.3"/><rect class="g lw" x="2885.3" y="1187.4" width="5.2" height="56.1"/><rect class="g" x="2881.4" y="1154.8" width="13.1" height="32.6"/></g>
<line x1="108.2" x2="108.2" y1="343" y2="1890" class="axis"/>
<line x1="3315.4" x2="3315.4" y1="343" y2="1813.8" class="axis"/>
<line x1="108.2" x2="3316.9" y1="1813.8" y2="1813.8" class="axis"/>
<text class="axl ayl" x="3336.5" y="581.1">1760.00</text>
<text class="axl ayl" x="3336.5" y="791.4">1680.00</text>
<text class="axl ayl" x="3336.5" y="1004.2">1600.00</text>
<text class="axl ayl" x="3336.5" y="1214.2">1520.00</text>
<text class="axl ayl" x="3336.5" y="1424.7">1440.00</text>
<text class="axl ayl" x="3336.5" y="1638.7">1360.00</text>
<text class="axl" text-anchor="middle" x="308.7" y="1866">2022-07</text>
<text class="axl" text-anchor="middle" x="679.9" y="1866">2022-08</text>
<text class="axl" text-anchor="middle" x="1051.1" y="1866">2022-09</text>
<text class="axl" text-anchor="middle" x="1422.3" y="1866">2022-10</text>
<text class="axl" text-anchor="middle" x="1793.5" y="1866">2022-11</text>
<text class="axl" text-anchor="middle" x="2164.8" y="1866">2022-12</text>
<text class="axl" text-anchor="middle" x="2536" y="1866">2023</text>
<text class="lg" y="391.5"><tspan class="lc" x="115.0">开</tspan><tspan class="lk" x="156.5">=</tspan><tspan class="lv" x="183.2">1526 </tspan><tspan class="lc" x="279.3">高</tspan><tspan class="lk" x="321.2">=</tspan><tspan class="lv" x="346.7">1545 </tspan><tspan class="lc" x="444.2">低</tspan><tspan class="lk" x="484.6">=</tspan><tspan class="lv" x="509.8">1505 </tspan><tspan class="lc" x="606.8">收</tspan><tspan class="lk" x="648.5">=</tspan><tspan class="lv" x="673.7">1539 </tspan><tspan class="lc" x="771.2">量</tspan><tspan class="lk" x="813.4">=</tspan><tspan class="lv" x="837.6">1247921</tspan></text>
<g id="icons"><line x1="34.6" y1="398.8" x2="82.3" y2="398.8" class="il"/><circle cx="58.5" cy="398.8" r="4.7" class="id"/><line x1="34" y1="495.3" x2="84.6" y2="495.3" class="il"/><circle cx="37.5" cy="495.3" r="4.7" class="id"/><circle cx="61.9" cy="495.3" r="4.7" class="id"/><line x1="37" y1="591.5" x2="80" y2="591.5" class="il"/><circle cx="37.5" cy="591.5" r="4.7" class="id"/><circle cx="79.5" cy="591.5" r="4.7" class="id"/><line x1="58.5" y1="660.8" x2="58.5" y2="714.7" class="il"/><circle cx="58.5" cy="687.5" r="4.6" class="id"/><line x1="58.5" y1="757" x2="58.5" y2="802" class="il"/><circle cx="58.5" cy="778.3" r="4.7" class="id"/><circle cx="58.5" cy="801.9" r="4.7" class="id"/><line x1="58.5" y1="858.4" x2="58.5" y2="898.4" class="il"/><circle cx="58.5" cy="858.4" r="4.7" class="id"/><circle cx="58.5" cy="898.4" r="4.7" class="id"/><line x1="36.9" y1="993.5" x2="79.5" y2="956.3" class="il" style="stroke-width:4.4;stroke:#7a7a7a"/><circle cx="51.1" cy="981.3" r="4.7" class="id"/><circle cx="65.3" cy="968" r="4.7" class="id"/><line x1="42" y1="1086" x2="79.5" y2="1051.7" class="il" style="stroke-width:4.4;stroke:#7a7a7a"/><circle cx="44" cy="1084.4" r="4.7" class="id"/><circle cx="61.9" cy="1068.5" r="4.7" class="id"/><line x1="40.6" y1="1184.6" x2="72.4" y2="1153.3" class="il" style="stroke-width:4.4;stroke:#7a7a7a"/><circle cx="40.6" cy="1184.6" r="4.7" class="id"/><circle cx="72.4" cy="1153.3" r="4.7" class="id"/><line x1="33" y1="1269.2" x2="84.6" y2="1269.2" class="il"/><circle cx="36.9" cy="1269.2" r="4.7" class="id"/><text x="44.5" y="1262.3" class="it">123</text><line x1="29.2" y1="1370.8" x2="69.6" y2="1330.8" class="il" style="stroke-width:4.4;stroke:#7a7a7a"/><circle cx="49.7" cy="1351" r="4.7" class="id"/><line x1="44.9" y1="1388.7" x2="85.7" y2="1348.7" class="il" style="stroke-width:4.4;stroke:#7a7a7a"/><circle cx="58.2" cy="1375" r="4.7" class="id"/><circle cx="72.4" cy="1360.9" r="4.7" class="id"/><line x1="32.6" y1="1458" x2="63" y2="1429" class="il" style="stroke-width:4.4;stroke:#7a7a7a"/><line x1="38.3" y1="1474.4" x2="78.9" y2="1435.2" class="il" style="stroke-width:4.4;stroke:#7a7a7a"/><circle cx="51.1" cy="1461.7" r="4.8" class="id"/><circle cx="65.3" cy="1447.2" r="4.8" class="id"/><line x1="54.5" y1="1479.2" x2="84.6" y2="1449.4" class="il" style="stroke-width:4.4;stroke:#7a7a7a"/><circle cx="69" cy="1465" r="4.8" class="id"/><line x1="31.1" y1="1532" x2="85.5" y2="1532" class="il" style="stroke-width:3.3;stroke:#707070"/><line x1="31.1" y1="1542.3" x2="85.5" y2="1542.3" class="il" style="stroke-width:3.3;stroke:#707070"/><line x1="31.1" y1="1552.2" x2="85.5" y2="1552.2" class="il" style="stroke-width:3.3;stroke:#707070"/><line x1="31.1" y1="1562.1" x2="85.5" y2="1562.1" class="il" style="stroke-width:3.3;stroke:#707070"/><line x1="31.1" y1="1573.1" x2="85.5" y2="1573.1" class="il" style="stroke-width:3.3;stroke:#707070"/><circle cx="44.6" cy="1532" r="4.4" class="id"/><circle cx="72.4" cy="1532" r="4.4" class="id"/><circle cx="58.3" cy="1573.1" r="4.4" class="id"/><line x1="31.1" y1="1624.9" x2="85.5" y2="1624.9" class="il" style="stroke-width:5.4;stroke:#6e6e6e"/><path class="ip" style="stroke-width:4.4" d="M50.3 1623.5 Q50.3 1616.3 58.6 1616.3 Q67 1616.3 67 1623.5"/><path class="ip" style="stroke-width:5.6" d="M37 1633.5 L37 1659.5 Q37 1670.6 48 1670.6 L69.5 1670.6 Q80.5 1670.6 80.5 1659.5 L80.5 1633.5"/><line x1="51.8" y1="1636" x2="51.8" y2="1661.5" class="il" style="stroke-width:5.2;stroke:#6e6e6e"/><line x1="65.7" y1="1636" x2="65.7" y2="1661.5" class="il" style="stroke-width:5.2;stroke:#6e6e6e"/></g>
<rect x="3126.2" y="345.4" width="179" height="65.8" rx="9" class="btn"/>
<line x1="3234.7" x2="3234.7" y1="345.5" y2="411.5" class="btnl" style="stroke-width:5.2"/>
<text x="3141" y="391.6" class="btnt">指标</text>
<line x1="3265" y1="370.9" x2="3255.5" y2="361.4" stroke="#2b2b2b" stroke-width="5.6"/><path d="M3265 357.4 L3251.5 357.4 L3251.5 370.9 Z" fill="#2b2b2b" stroke="#2b2b2b" stroke-width="1.2" stroke-linejoin="round"/>
<line x1="3276" y1="370.9" x2="3285.5" y2="361.4" stroke="#2b2b2b" stroke-width="5.6"/><path d="M3276 357.4 L3289.5 357.4 L3289.5 370.9 Z" fill="#2b2b2b" stroke="#2b2b2b" stroke-width="1.2" stroke-linejoin="round"/>
<line x1="3265" y1="381.9" x2="3255.5" y2="391.4" stroke="#2b2b2b" stroke-width="5.6"/><path d="M3265 395.4 L3251.5 395.4 L3251.5 381.9 Z" fill="#2b2b2b" stroke="#2b2b2b" stroke-width="1.2" stroke-linejoin="round"/>
<line x1="3276" y1="381.9" x2="3285.5" y2="391.4" stroke="#2b2b2b" stroke-width="5.6"/><path d="M3276 395.4 L3289.5 395.4 L3289.5 381.9 Z" fill="#2b2b2b" stroke="#2b2b2b" stroke-width="1.2" stroke-linejoin="round"/>
<rect x="3467" y="1652.3" width="100" height="130" rx="10" class="btn"/>
<line x1="3467" x2="3544" y1="1717" y2="1717" class="btnl"/>
<path d="M3490.5 1690.5 L3505.2 1676.5 L3520 1690.5" fill="none" stroke="#5a5a5a" stroke-width="7.6"/>
<path d="M3490.5 1740.5 L3505.2 1754.5 L3520 1740.5" fill="none" stroke="#5a5a5a" stroke-width="7.6"/>
<rect x="3540.6" y="0" width="4" height="1939" fill="#dedede"/>
<rect x="10.3" y="0" width="13.1" height="106.8" fill="#eeeeee"/>
<text x="84" y="53.6" class="ttl">行情数据</text>
<path d="M12.2 295 L12.2 180.3 Q12.2 170.3 22.2 170.3 L500.4 170.3 Q510.4 170.3 510.4 180.3 L510.4 295" fill="none" stroke="#d8d8d8" stroke-width="3"/>
<text transform="translate(60.2 244.6) scale(0.888 1)" class="tab">Futures_CTP:FG888</text>
<rect x="10.3" y="1935.6" width="13.1" height="4" fill="#e8e8e8"/>
</g>
<line x1="2535.3" x2="2535.3" y1="343" y2="1811" stroke="#ff0000" stroke-width="4.2" stroke-dasharray="17.6 13.35"/>
<text class="ann" y="508.1"><tspan class="ac" x="2357.6">策略开始</tspan></text>
<text class="ann" y="936.1"><tspan class="ac" x="1686.9">历史</tspan><tspan class="al" x="1853.1" y="932.6">Bar</tspan></text>
<text class="ann" y="936.1"><tspan class="ac" x="2788.1">实时</tspan><tspan class="al" x="2955.8" y="932.6">Bar</tspan></text>
</svg>
</body></html>
